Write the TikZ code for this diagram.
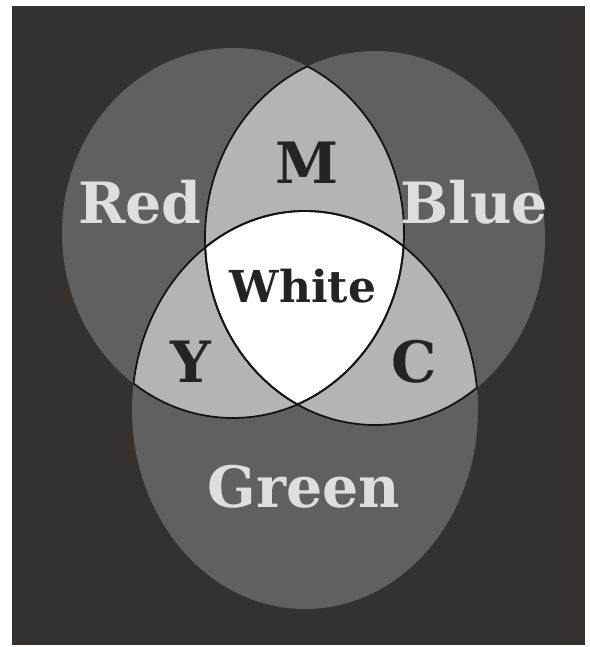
\documentclass[tikz,border=0pt]{standalone}
\usepackage{fontspec}
\newfontfamily\labelfont{DejaVu Serif}
\usepackage{tikz}
\usepackage{xcolor}
\definecolor{ink}{RGB}{20,20,20}
\definecolor{night}{RGB}{52,50,48}
\definecolor{single}{RGB}{96,96,96}
\definecolor{pair}{RGB}{180,180,180}
\definecolor{paper}{RGB}{255,255,255}
\definecolor{lightlbl}{RGB}{222,222,222}
\definecolor{darklbl}{RGB}{36,36,36}
\tikzset{
  disc/.style={fill=single},
  lens/.style={fill=pair},
  edge/.style={draw=ink,line width=1.8pt},
  primlbl/.style={font=\labelfont\bfseries\fontsize{57}{57}\selectfont,
    text=lightlbl,anchor=base,inner sep=0pt},
  mixlbl/.style={font=\labelfont\bfseries\fontsize{57}{57}\selectfont,
    text=darklbl,anchor=base,inner sep=0pt},
}
\newcommand{\redpath}{(233,233) ellipse [x radius=171pt, y radius=185pt]}
\newcommand{\bluepath}{(375,238) ellipse [x radius=170pt, y radius=187pt]}
\newcommand{\greenpath}{(305,410) ellipse [x radius=173pt, y radius=199pt]}

\begin{document}
\begin{tikzpicture}[x=1pt,y=-1pt]
  \useasboundingbox (0,0) rectangle (589,647);
  \fill[paper] (0,0) rectangle (589,647);
  \fill[night] (12,6) rectangle (585,645);
  % the three lights
  \fill[disc] \redpath;
  \fill[disc] \bluepath;
  \fill[disc] \greenpath;
  % pairwise overlaps
  \begin{scope}
    \clip \redpath;
    \fill[lens] \bluepath;
    \fill[lens] \greenpath;
  \end{scope}
  \begin{scope}
    \clip \bluepath;
    \fill[lens] \greenpath;
  \end{scope}
  % all three
  \begin{scope}
    \clip \redpath;
    \clip \bluepath;
    \fill[paper] \greenpath;
  \end{scope}
  % inner arcs
  \begin{scope}\clip \redpath;   \draw[edge] \bluepath; \draw[edge] \greenpath; \end{scope}
  \begin{scope}\clip \bluepath;  \draw[edge] \redpath;  \draw[edge] \greenpath; \end{scope}
  \begin{scope}\clip \greenpath; \draw[edge] \redpath;  \draw[edge] \bluepath;  \end{scope}
  % labels
  \node[primlbl] (red)   at (140,223) {Red};
  \node[primlbl] (blue)  at (474,223) {Blue};
  \node[primlbl] (green) at (304,507) {Green};
  \node[mixlbl]  (m)     at (307,183) {M};
  \node[mixlbl]  (y)     at (191,382) {Y};
  \node[mixlbl]  (c)     at (414,382) {C};
  \node[mixlbl,font=\labelfont\bfseries\fontsize{44}{44}\selectfont] (white) at (303,302) {White};
\end{tikzpicture}
\end{document}
